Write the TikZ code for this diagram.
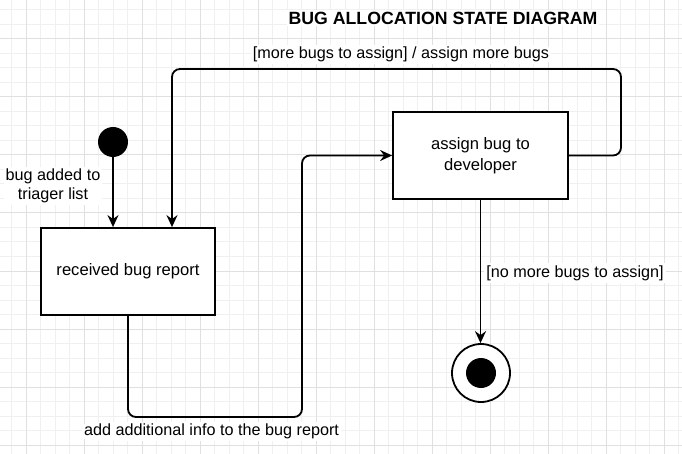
\documentclass[tikz,border=0pt]{standalone}
\usepackage{fontspec}
\setmainfont{Liberation Sans}
\usetikzlibrary{arrows.meta,positioning,calc}
\definecolor{gridminor}{HTML}{F0F0F0}
\definecolor{gridmajor}{HTML}{E0E0E0}

\begin{document}
\begin{tikzpicture}[x=1pt, y=-1pt,
  state/.style={draw, line width=1.8pt, fill=white, minimum width=174pt,
                minimum height=87pt, font=\fontsize{16.6}{21}\selectfont, align=center},
  initst/.style={circle, fill=black, minimum size=30pt, inner sep=0pt},
  finalst/.style={circle, draw, line width=1.8pt, fill=white, minimum size=58pt, inner sep=0pt},
  arr/.style={-{Stealth[length=12pt, width=11pt, inset=4pt]}, line width=1.8pt, rounded corners=8pt},
  lbl/.style={fill=white, inner sep=2pt, font=\fontsize{16.2}{19}\selectfont, align=center},
  ttl/.style={fill=white, inner sep=2pt, font=\fontsize{17.7}{20}\selectfont\bfseries},
]
\useasboundingbox (0,0) rectangle (682,454);
\fill[white] (0,0) rectangle (682,454);
% grid
\foreach \k in {0,...,47}
  \draw[gridminor, line width=1pt] ({-3+14.5*\k},0) -- ++(0,454);
\foreach \k in {0,...,30}
  \draw[gridminor, line width=1pt] (0,{10+14.5*\k}) -- ++(682,0);
\foreach \k in {0,...,11}
  \draw[gridmajor, line width=1pt] ({26+58*\k},0) -- ++(0,454);
\foreach \k in {0,...,7}
  \draw[gridmajor, line width=1pt] (0,{39+58*\k}) -- ++(682,0);

\node[ttl] (title) at (443,18) {BUG ALLOCATION STATE DIAGRAM};

% states
\node[initst] (init) at (113,142) {};
\node[state] (recv) at (128,271.5) {received bug report};
\node[state, minimum width=175pt] (assign) at (480.5,155.5) {assign bug to\\developer};
\node[finalst] (final) at (481,373) {};
\node[initst] (finaldot) at (final) {};

% transitions
\node[lbl] (addedlbl) at (53,186) {bug added to\\triager list};
\draw[arr] (init) -- (init |- recv.north);

\coordinate (loopright) at (621,69);
\coordinate (loopleft) at (172,69);
\draw[arr] (assign.east) -| (loopright)
  -- node[lbl, above=4pt, pos=0.49] {[more bugs to assign] / assign more bugs} (loopleft)
  -- (loopleft |- recv.north);

\coordinate (lowright) at (302,417);
\draw[arr] (recv.south) |- node[lbl, below=4pt, pos=0.74] {add additional info to the bug report} (lowright)
  |- (assign.west);

\draw[arr] (assign.south) -- (assign.south |- final.north);
\node[lbl] (nomorelbl) at (575,273) {[no more bugs to assign]};
\end{tikzpicture}
\end{document}
